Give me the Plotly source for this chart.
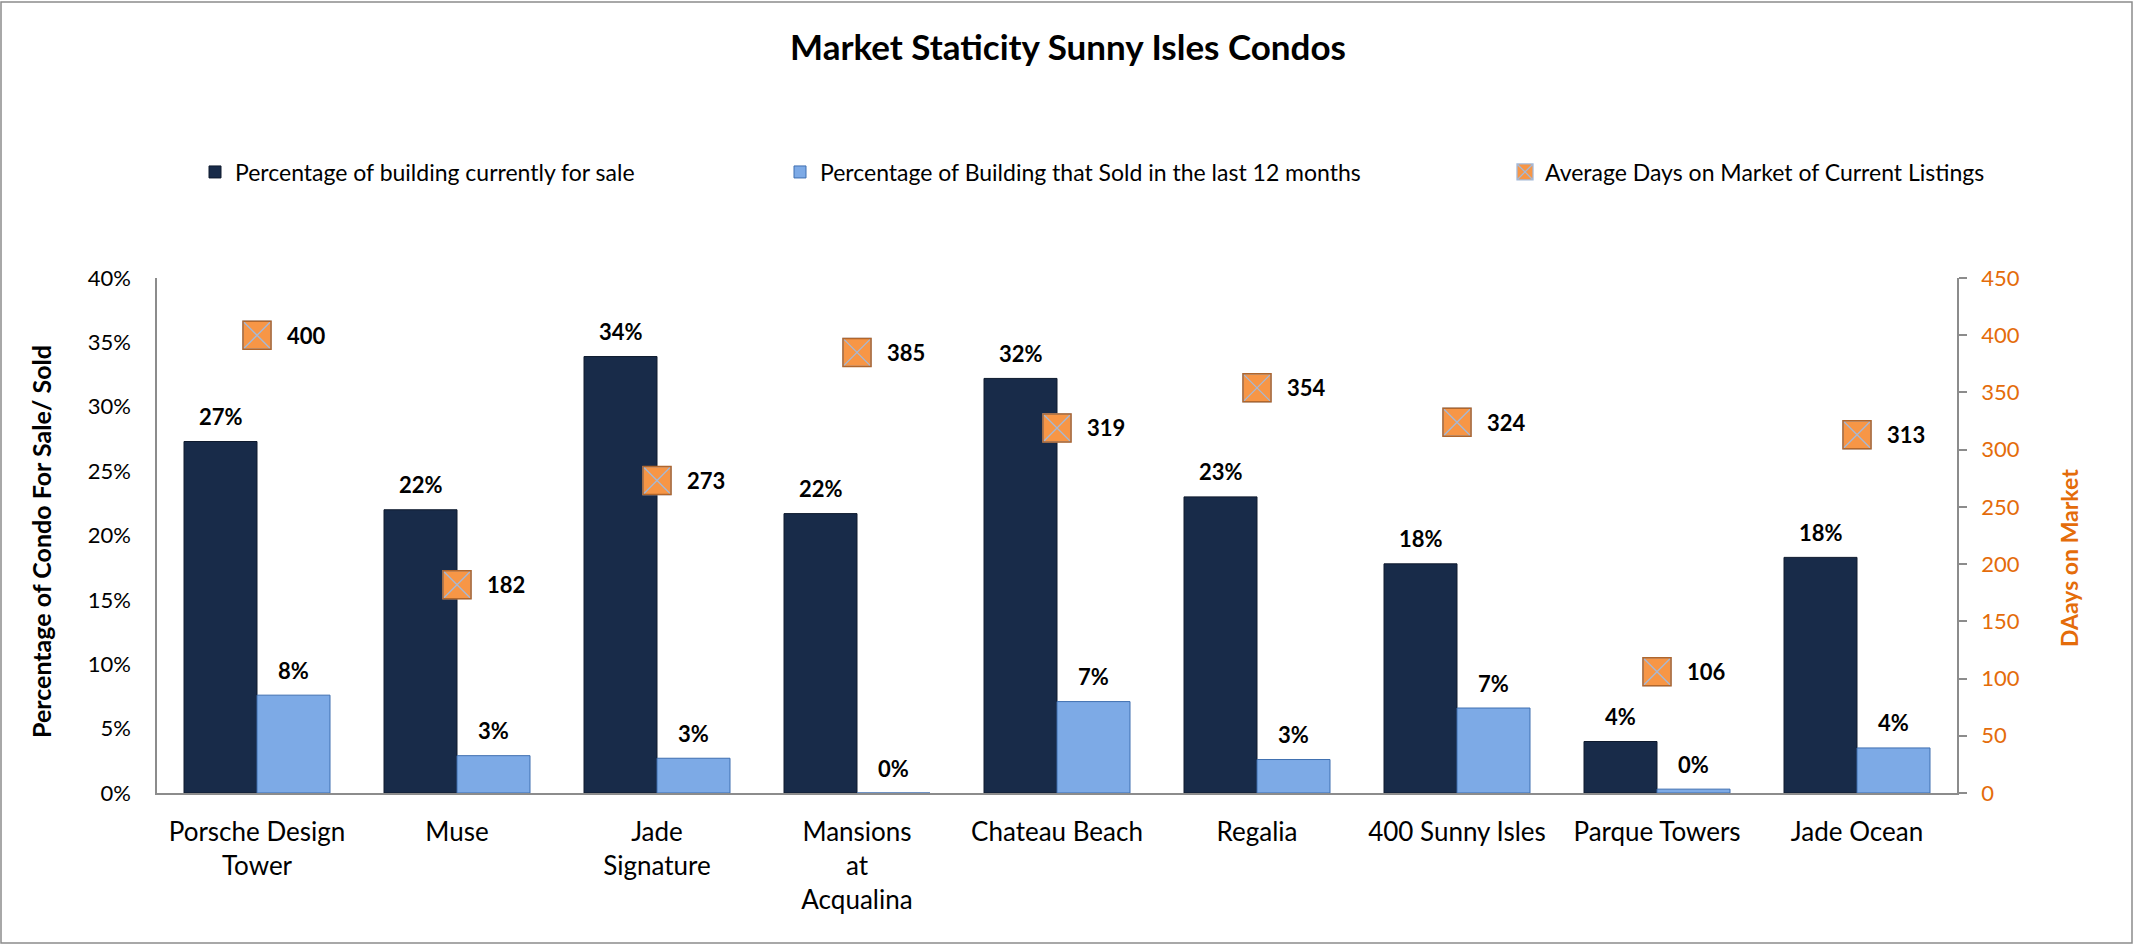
import plotly.graph_objects as go

# ---------------- data ----------------
categories = ["Porsche Design Tower", "Muse", "Jade Signature", "Mansions at Acqualina",
              "Chateau Beach", "Regalia", "400 Sunny Isles", "Parque Towers", "Jade Ocean"]
tick_labels = ["Porsche Design<br>Tower", "Muse", "Jade<br>Signature", "Mansions<br>at<br>Acqualina",
               "Chateau Beach", "Regalia", "400 Sunny Isles", "Parque Towers", "Jade Ocean"]
for_sale = [0.273, 0.220, 0.339, 0.217, 0.322, 0.230, 0.178, 0.040, 0.183]
sold_12m = [0.076, 0.029, 0.027, 0.0, 0.071, 0.026, 0.066, 0.003, 0.035]
days_on_market = [400, 182, 273, 385, 319, 354, 324, 106, 313]

pct_ticks = [0, 0.05, 0.10, 0.15, 0.20, 0.25, 0.30, 0.35, 0.40]
day_ticks = [0, 50, 100, 150, 200, 250, 300, 350, 400, 450]

FONT = "Lato"
ORANGE_TXT = "#E46C0A"
AXIS_GRAY = "#8C8C8C"

# layout geometry (pixels)
W, H = 2136, 947
L, R, T, B = 157, 179, 278, 154
PW, PH = W - L - R, H - T - B

def px_x(p):
    return (p - L) / PW

def px_y(p):
    return (H - B - p) / PH

fig = go.Figure()

fig.add_trace(go.Bar(
    x=categories, y=for_sale, name="Percentage of building currently for sale",
    marker=dict(color="#182B49", line=dict(color="#0E1A2E", width=1)),
    legend="legend", yaxis="y", hoverinfo="skip"))

fig.add_trace(go.Bar(
    x=categories, y=sold_12m, name="Percentage of Building that Sold in the last 12 months",
    marker=dict(color="#7DAAE6", line=dict(color="#3F6FB0", width=1)),
    legend="legend2", yaxis="y", hoverinfo="skip"))

fig.add_trace(go.Scatter(
    x=categories, y=days_on_market, name="Average Days on Market of Current Listings",
    mode="markers", yaxis="y2", legend="legend3",
    marker=dict(symbol="square-x", size=28, color="#F79646",
                line=dict(color="#A4B9D8", width=1.3)),
    hoverinfo="skip"))

fig.add_trace(go.Scatter(
    x=categories, y=days_on_market, mode="markers", yaxis="y2", showlegend=False,
    marker=dict(symbol="square-open", size=28, color="#B0662C", line=dict(color="#B0662C", width=1.5)),
    hoverinfo="skip"))

annotations = []
label_font = dict(family=FONT, size=22, color="#000000", weight="bold")
for c, v in zip(categories, for_sale):
    annotations.append(dict(x=c, y=v, xref="x", yref="y", text=f"{v:.0%}", showarrow=False,
                            xshift=-36.5, yshift=25, yanchor="middle", font=label_font))
for c, v in zip(categories, sold_12m):
    annotations.append(dict(x=c, y=v, xref="x", yref="y", text=f"{v:.0%}", showarrow=False,
                            xshift=36.5, yshift=25, yanchor="middle", font=label_font))
for c, d in zip(categories, days_on_market):
    annotations.append(dict(x=c, y=d, xref="x", yref="y2", text=str(d), showarrow=False,
                            xshift=28, xanchor="left", yanchor="middle", font=label_font))

# axis titles
annotations.append(dict(x=px_x(41), y=px_y(542), xref="paper", yref="paper", showarrow=False,
                        text="Percentage of Condo For Sale/ Sold", textangle=-90,
                        xanchor="center", yanchor="middle",
                        font=dict(family=FONT, size=25, color="#000000", weight="bold")))
annotations.append(dict(x=px_x(2069), y=px_y(558), xref="paper", yref="paper", showarrow=False,
                        text="DAays on Market", textangle=-90,
                        xanchor="center", yanchor="middle",
                        font=dict(family=FONT, size=23, color=ORANGE_TXT, weight="bold")))

legend_common = dict(orientation="h", yanchor="middle", xanchor="left", y=px_y(172),
                     font=dict(family=FONT, size=23, color="#000000"),
                     bgcolor="rgba(0,0,0,0)", itemclick=False, itemdoubleclick=False)

fig.update_layout(
    width=W, height=H,
    margin=dict(l=L, r=R, t=T, b=B, autoexpand=False),
    paper_bgcolor="white", plot_bgcolor="white",
    font=dict(family=FONT, color="#000000"),
    title=dict(text="<b>Market Staticity Sunny Isles Condos</b>", x=0.5, xref="container",
               xanchor="center", y=1 - 48 / H, yanchor="middle", yref="container",
               font=dict(family=FONT, size=35, color="#000000")),
    barmode="group", bargap=0.27, bargroupgap=0,
    xaxis=dict(type="category", categoryorder="array", categoryarray=categories,
               range=[-0.5, len(categories) - 0.5],
               tickvals=categories, ticktext=tick_labels,
               showline=True, linecolor=AXIS_GRAY, linewidth=1.5, ticks="",
               tickfont=dict(family=FONT, size=26, color="#000000"),
               ticklabelstandoff=15, showgrid=False, zeroline=False, fixedrange=True),
    yaxis=dict(range=[0, 0.40], tickvals=pct_ticks, tickformat=".0%",
               showline=True, linecolor=AXIS_GRAY, linewidth=1.5, ticks="",
               tickfont=dict(family=FONT, size=22, color="#000000"),
               ticklabelstandoff=20, showgrid=False, zeroline=False, fixedrange=True),
    yaxis2=dict(range=[0, 450], tickvals=day_ticks, overlaying="y", side="right",
                showline=True, linecolor=AXIS_GRAY, linewidth=1.5,
                ticks="outside", ticklen=8, tickcolor=AXIS_GRAY, tickwidth=1.5,
                tickfont=dict(family=FONT, size=22, color=ORANGE_TXT),
                ticklabelstandoff=10, showgrid=False, zeroline=False, fixedrange=True),
    legend=dict(**legend_common, x=px_x(195)),
    legend2=dict(**legend_common, x=px_x(780)),
    legend3=dict(**legend_common, x=px_x(1505)),
    annotations=annotations,
    shapes=[dict(type="rect", xref="paper", yref="paper",
                 x0=px_x(1), x1=px_x(2132), y0=px_y(943), y1=px_y(2),
                 line=dict(color="#8C8C8C", width=1.5), fillcolor="rgba(0,0,0,0)", layer="below")],
)

fig.write_html("out.html", config={"displayModeBar": False})
